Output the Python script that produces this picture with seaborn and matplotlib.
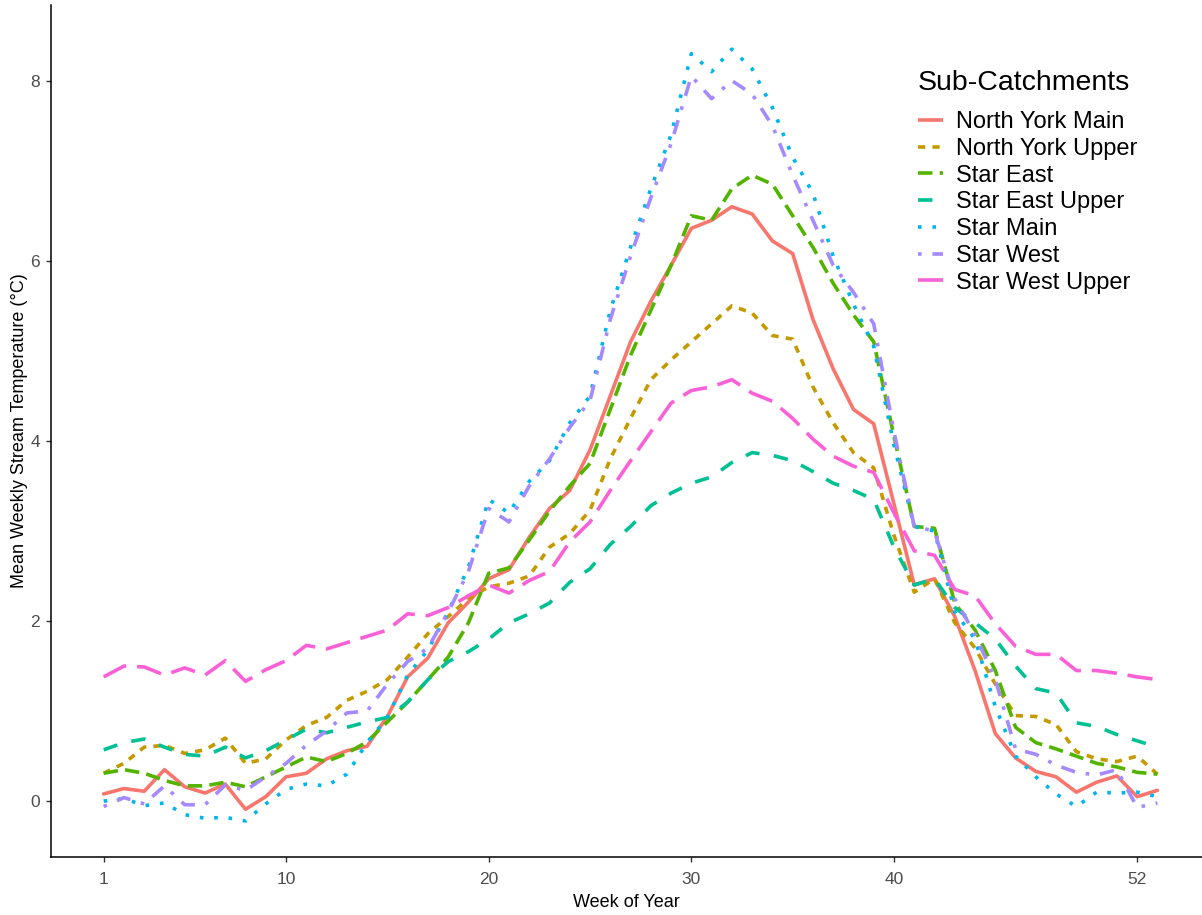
import matplotlib
matplotlib.use("Agg")
import matplotlib.pyplot as plt
import seaborn as sns
import pandas as pd
from matplotlib.lines import Line2D

weeks = list(range(1, 54))

north_york_main = [0.08, 0.14, 0.11, 0.35, 0.16, 0.09, 0.19, -0.09, 0.05, 0.27,
                   0.31, 0.47, 0.56, 0.61, 0.94, 1.38, 1.59, 1.98, 2.21, 2.47,
                   2.57, 2.93, 3.25, 3.45, 3.90, 4.50, 5.10, 5.55, 5.95, 6.36,
                   6.45, 6.60, 6.52, 6.22, 6.08, 5.35, 4.80, 4.35, 4.19, 3.30,
                   2.40, 2.47, 2.05, 1.45, 0.75, 0.48, 0.33, 0.27, 0.10, 0.21,
                   0.28, 0.05, 0.12]
north_york_upper = [0.31, 0.42, 0.60, 0.62, 0.53, 0.57, 0.70, 0.42, 0.47, 0.68,
                    0.84, 0.93, 1.12, 1.22, 1.35, 1.60, 1.86, 2.05, 2.25, 2.38,
                    2.42, 2.50, 2.82, 2.97, 3.23, 3.80, 4.25, 4.68, 4.90, 5.10,
                    5.30, 5.50, 5.42, 5.17, 5.13, 4.60, 4.20, 3.87, 3.70, 2.95,
                    2.32, 2.47, 1.98, 1.70, 1.30, 0.95, 0.94, 0.85, 0.55, 0.47,
                    0.44, 0.50, 0.30]
star_east = [0.31, 0.35, 0.31, 0.23, 0.17, 0.17, 0.21, 0.16, 0.27, 0.38,
             0.49, 0.44, 0.53, 0.66, 0.88, 1.10, 1.35, 1.60, 1.98, 2.53,
             2.59, 2.90, 3.22, 3.50, 3.75, 4.35, 4.95, 5.45, 5.95, 6.50,
             6.45, 6.80, 6.95, 6.85, 6.50, 6.15, 5.75, 5.40, 5.10, 4.05,
             3.05, 3.03, 2.20, 1.90, 1.45, 0.82, 0.65, 0.58, 0.50, 0.42,
             0.38, 0.32, 0.30]
star_east_upper = [0.57, 0.65, 0.69, 0.60, 0.52, 0.50, 0.60, 0.48, 0.56, 0.68,
                   0.80, 0.76, 0.82, 0.88, 0.93, 1.10, 1.35, 1.55, 1.66, 1.80,
                   1.98, 2.08, 2.20, 2.43, 2.58, 2.85, 3.05, 3.28, 3.42, 3.53,
                   3.60, 3.76, 3.87, 3.84, 3.78, 3.66, 3.53, 3.45, 3.35, 2.82,
                   2.40, 2.47, 2.15, 1.98, 1.80, 1.50, 1.25, 1.20, 0.87, 0.83,
                   0.74, 0.67, 0.60]
star_main = [0.00, 0.03, -0.05, -0.02, -0.15, -0.19, -0.18, -0.22, -0.03, 0.13,
             0.19, 0.17, 0.30, 0.65, 0.93, 1.40, 1.68, 2.10, 2.60, 3.35,
             3.20, 3.55, 3.78, 4.20, 4.50, 5.45, 6.15, 6.80, 7.40, 8.30,
             8.10, 8.35, 8.13, 7.70, 7.15, 6.75, 6.05, 5.52, 5.05, 3.95,
             3.05, 3.00, 2.10, 1.80, 1.05, 0.50, 0.27, 0.08, -0.06, 0.10,
             0.09, 0.10, 0.05]
star_west = [-0.06, 0.04, -0.03, 0.17, -0.04, -0.04, 0.18, 0.12, 0.27, 0.42,
             0.62, 0.78, 0.98, 1.00, 1.30, 1.55, 1.70, 2.10, 2.55, 3.25,
             3.10, 3.50, 3.80, 4.15, 4.45, 5.35, 6.05, 6.70, 7.30, 8.05,
             7.80, 8.00, 7.85, 7.50, 6.95, 6.45, 5.95, 5.65, 5.30, 4.10,
             3.05, 3.00, 2.25, 1.85, 1.35, 0.58, 0.52, 0.40, 0.32, 0.29,
             0.35, -0.07, -0.02]
star_west_upper = [1.38, 1.50, 1.49, 1.40, 1.48, 1.40, 1.56, 1.33, 1.46, 1.56,
                   1.73, 1.69, 1.76, 1.83, 1.90, 2.08, 2.06, 2.15, 2.28, 2.40,
                   2.31, 2.45, 2.55, 2.88, 3.10, 3.45, 3.78, 4.10, 4.42, 4.56,
                   4.60, 4.68, 4.53, 4.44, 4.25, 4.02, 3.83, 3.72, 3.65, 3.20,
                   2.78, 2.73, 2.35, 2.28, 1.97, 1.72, 1.63, 1.63, 1.45, 1.45,
                   1.42, 1.38, 1.35]

sites = ["North York Main", "North York Upper", "Star East", "Star East Upper",
         "Star Main", "Star West", "Star West Upper"]
series = [north_york_main, north_york_upper, star_east, star_east_upper,
          star_main, star_west, star_west_upper]
colors = ["#F8766D", "#C49A00", "#53B400", "#00C094", "#00B6EB", "#A58AFF", "#FB61D7"]
dash_list = ["", (2, 2), (4, 2), (4, 4), (1, 3), (1, 3, 4, 3), (7, 3)]
x_ticks = [1, 10, 20, 30, 40, 52]
y_ticks = [0, 2, 4, 6, 8]

rows = []
for s, vals in zip(sites, series):
    for w, v in zip(weeks, vals):
        rows.append({"week": w, "temp": v, "site": s})
df = pd.DataFrame(rows)
df["site"] = pd.Categorical(df["site"], categories=sites, ordered=True)

sns.set_style("white")
plt.rcParams["font.family"] = ["Liberation Sans", "DejaVu Sans"]

W, H = 1202, 915
fig = plt.figure(figsize=(W / 100, H / 100), dpi=100)
ax = fig.add_axes([51 / W, 1 - 857 / H, (1202 - 51) / W, (857 - 5) / H])

LW = 2.6
sns.lineplot(data=df, x="week", y="temp", hue="site", style="site",
             hue_order=sites, style_order=sites,
             palette=dict(zip(sites, colors)), dashes=dict(zip(sites, dash_list)),
             linewidth=LW, ax=ax, legend=False, estimator=None, sort=False)

ax.set_xlim(-1.6, 55.2)
ax.set_ylim(-0.62, 8.84)
ax.set_xticks(x_ticks)
ax.set_yticks(y_ticks)
ax.set_xticklabels([str(t) for t in x_ticks])
ax.set_yticklabels([str(t) for t in y_ticks])

for side in ["top", "right"]:
    ax.spines[side].set_visible(False)
for side in ["left", "bottom"]:
    ax.spines[side].set_color("black")
    ax.spines[side].set_linewidth(1.1)

ax.tick_params(axis="both", which="major", length=3.5, width=1.0, color="#333333",
               labelcolor="#4D4D4D", labelsize=12.5, pad=4.5,
               left=True, bottom=True)
ax.tick_params(axis="x", pad=7.5)

ax.set_xlabel("Week of Year", fontsize=13, color="black")
ax.set_ylabel("Mean Weekly Stream Temperature (°C)", fontsize=13, color="black")
ax.xaxis.set_label_coords(0.5, -(894 - 857) / 852)
ax.yaxis.set_label_coords(-(51 - 28) / 1151, 0.5)

handles = []
for c, d in zip(colors, dash_list):
    if d == "":
        h = Line2D([], [], color=c, lw=LW, linestyle="-", solid_capstyle="butt")
    else:
        h = Line2D([], [], color=c, lw=LW, dashes=d)
    handles.append(h)

leg = ax.legend(handles, sites, title="Sub-Catchments", loc="upper left",
                bbox_to_anchor=(918 / W, 1 - 70 / H), bbox_transform=fig.transFigure,
                frameon=False, fontsize=17, title_fontsize=20.5,
                handlelength=1.05, handletextpad=0.55, labelspacing=0.2,
                borderpad=0, borderaxespad=0, alignment="left")
leg._legend_box.sep = 11
for t in leg.get_texts():
    t.set_color("black")
leg.get_title().set_color("black")

fig.savefig("out.png", dpi=100, facecolor="white")
